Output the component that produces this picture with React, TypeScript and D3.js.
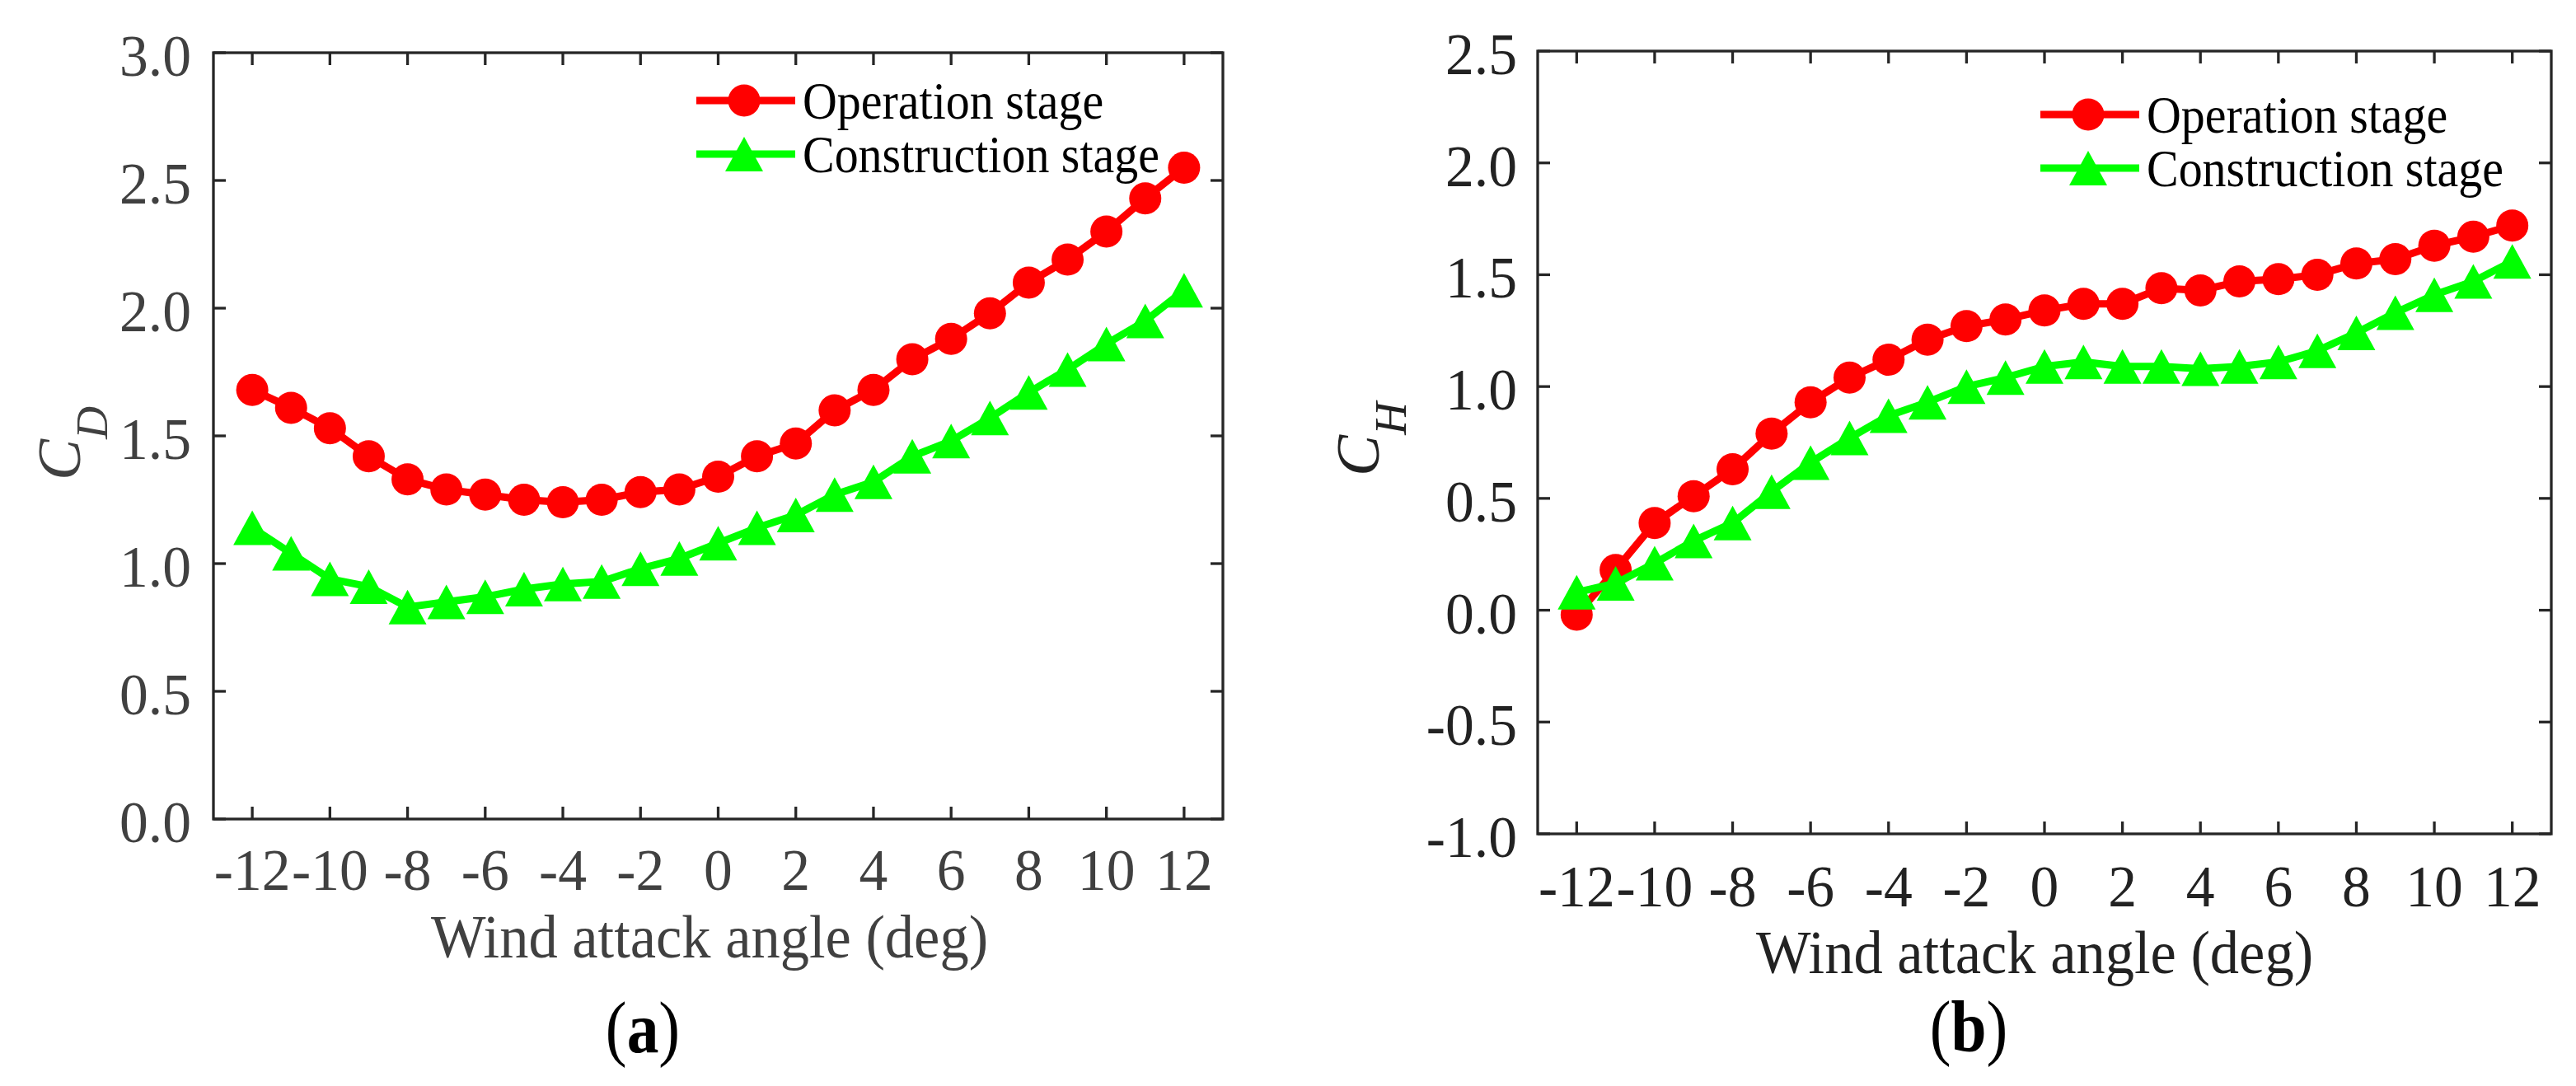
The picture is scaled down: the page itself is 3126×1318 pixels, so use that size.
import React from 'react';
import * as d3 from 'd3';

// wind attack angles (deg)
const angles = d3.range(-12, 13, 1);

// drag coefficient C_D
const cdOperation = [1.68, 1.61, 1.53, 1.42, 1.33, 1.29, 1.27, 1.25, 1.24, 1.25, 1.28, 1.29, 1.34, 1.42, 1.47, 1.60, 1.68, 1.80, 1.88, 1.98, 2.10, 2.19, 2.30, 2.43, 2.55];
const cdConstruction = [1.14, 1.04, 0.94, 0.91, 0.83, 0.85, 0.87, 0.90, 0.92, 0.93, 0.98, 1.02, 1.08, 1.14, 1.19, 1.27, 1.32, 1.42, 1.48, 1.57, 1.67, 1.76, 1.86, 1.95, 2.07];

// lift coefficient C_H
const chOperation = [-0.02, 0.18, 0.39, 0.51, 0.63, 0.79, 0.93, 1.04, 1.12, 1.21, 1.27, 1.30, 1.34, 1.37, 1.37, 1.44, 1.43, 1.47, 1.48, 1.50, 1.55, 1.57, 1.63, 1.67, 1.72];
const chConstruction = [0.08, 0.12, 0.21, 0.31, 0.39, 0.53, 0.66, 0.77, 0.87, 0.93, 1.00, 1.04, 1.09, 1.11, 1.09, 1.09, 1.08, 1.09, 1.11, 1.16, 1.24, 1.33, 1.41, 1.47, 1.56];

const xTicks = d3.range(-12, 13, 2);
const cdTicks = [0, 0.5, 1.0, 1.5, 2.0, 2.5, 3.0];
const chTicks = [-1.0, -0.5, 0, 0.5, 1.0, 1.5, 2.0, 2.5];

const seriesNames = ['Operation stage', 'Construction stage'];
const xLabel = 'Wind attack angle (deg)';

const FONT = "'Liberation Serif', 'Times New Roman', serif";
const RED = '#ff0000';
const GREEN = '#00ff00';
const FRAME = '#262626';

interface PanelProps {
  left: number; right: number; top: number; bottom: number;
  yDomain: [number, number];
  yTicks: number[];
  red: number[]; green: number[];
  textColor: string;
  yLabelMain: string; yLabelSub: string;
  yLabelX: number; yLabelY: number;
  yTickGap: number;
  xTickBase: number;
  xLabelX: number; xLabelBase: number;
  legendX: number; legendY: number;
  tag: string; tagX: number; tagBase: number;
}

const triangle = (x: number, y: number) =>
  `M${x},${y - 21}L${x + 23},${y + 21}L${x - 23},${y + 21}Z`;

const Panel: React.FC<PanelProps> = (p) => {
  const x = d3.scaleLinear().domain([-13, 13]).range([p.left, p.right]);
  const y = d3.scaleLinear().domain(p.yDomain).range([p.bottom, p.top]);
  const line = d3.line<number>().x((_, i) => x(angles[i])).y(d => y(d));
  const tick = 15;

  return (
    <g>
      {/* data */}
      <path d={line(p.red) || ''} fill="none" stroke={RED} strokeWidth={9} strokeLinejoin="round" />
      {p.red.map((v, i) => (
        <circle key={`r${i}`} cx={x(angles[i])} cy={y(v)} r={19.5} fill={RED} />
      ))}
      <path d={line(p.green) || ''} fill="none" stroke={GREEN} strokeWidth={9} strokeLinejoin="round" />
      {p.green.map((v, i) => (
        <path key={`g${i}`} d={triangle(x(angles[i]), y(v))} fill={GREEN} />
      ))}

      {/* frame and ticks */}
      <rect x={p.left} y={p.top} width={p.right - p.left} height={p.bottom - p.top}
        fill="none" stroke={FRAME} strokeWidth={3.3} />
      {xTicks.map(t => (
        <g key={`xt${t}`} stroke={FRAME} strokeWidth={3.3}>
          <line x1={x(t)} x2={x(t)} y1={p.bottom} y2={p.bottom - tick} />
          <line x1={x(t)} x2={x(t)} y1={p.top} y2={p.top + tick} />
        </g>
      ))}
      {p.yTicks.map(t => (
        <g key={`yt${t}`} stroke={FRAME} strokeWidth={3.3}>
          <line x1={p.left} x2={p.left + tick} y1={y(t)} y2={y(t)} />
          <line x1={p.right} x2={p.right - tick} y1={y(t)} y2={y(t)} />
        </g>
      ))}

      {/* tick labels */}
      {xTicks.map(t => (
        <text key={`xl${t}`} transform={`translate(${x(t)},${p.xTickBase}) scale(0.98,1)`}
          textAnchor="middle" fontFamily={FONT} fontSize={71} fill={p.textColor}>{String(t)}</text>
      ))}
      {p.yTicks.map(t => (
        <text key={`yl${t}`} transform={`translate(${p.left - p.yTickGap},${y(t) + 28}) scale(0.98,1)`}
          textAnchor="end" fontFamily={FONT} fontSize={71} fill={p.textColor}>{t.toFixed(1)}</text>
      ))}

      {/* axis labels */}
      <text transform={`translate(${p.xLabelX},${p.xLabelBase}) scale(0.94,1)`}
        textAnchor="middle" fontFamily={FONT} fontSize={75} fill={p.textColor}>{xLabel}</text>
      <text transform={`translate(${p.yLabelX},${p.yLabelY}) rotate(-90)`}
        textAnchor="middle" fontFamily={FONT} fontStyle="italic" fill={p.textColor}>
        <tspan fontSize={75}>{p.yLabelMain}</tspan>
        <tspan fontSize={55} dy={33}>{p.yLabelSub}</tspan>
      </text>

      {/* legend */}
      {[0, 1].map(k => {
        const ly = p.legendY + k * 65;
        const mx = p.legendX + 58;
        return (
          <g key={`lg${k}`}>
            <line x1={p.legendX} x2={p.legendX + 120} y1={ly} y2={ly}
              stroke={k === 0 ? RED : GREEN} strokeWidth={9} />
            {k === 0
              ? <circle cx={mx} cy={ly} r={19.5} fill={RED} />
              : <path d={triangle(mx, ly)} fill={GREEN} />}
            <text transform={`translate(${p.legendX + 129},${ly + 22}) scale(0.92,1)`}
              fontFamily={FONT} fontSize={63} fill="#000">{seriesNames[k]}</text>
          </g>
        );
      })}

      {/* panel tag */}
      <text transform={`translate(${p.tagX},${p.tagBase}) scale(0.88,1)`}
        textAnchor="middle" fontFamily={FONT} fontSize={88} fill="#000">
        (<tspan fontWeight="bold">{p.tag}</tspan>)
      </text>
    </g>
  );
};

export default function App() {
  return (
    <svg width={3126} height={1318} viewBox="0 0 3126 1318"
      style={{ position: 'absolute', left: 0, top: 0, background: '#fff' }}>
      <rect width={3126} height={1318} fill="#fff" />
      <Panel
        left={259} right={1484} top={64} bottom={994}
        yDomain={[0, 3]} yTicks={cdTicks}
        red={cdOperation} green={cdConstruction}
        textColor="#404040"
        yLabelMain="C" yLabelSub="D" yLabelX={97} yLabelY={538}
        yTickGap={27} xTickBase={1080}
        xLabelX={861} xLabelBase={1162}
        legendX={845} legendY={122}
        tag="a" tagX={780} tagBase={1277}
      />
      <Panel
        left={1866} right={3096} top={62} bottom={1012}
        yDomain={[-1, 2.5]} yTicks={chTicks}
        red={chOperation} green={chConstruction}
        textColor="#222222"
        yLabelMain="C" yLabelSub="H" yLabelX={1673} yLabelY={533}
        yTickGap={25} xTickBase={1100}
        xLabelX={2469} xLabelBase={1181}
        legendX={2476} legendY={139}
        tag="b" tagX={2389} tagBase={1276}
      />
    </svg>
  );
}
